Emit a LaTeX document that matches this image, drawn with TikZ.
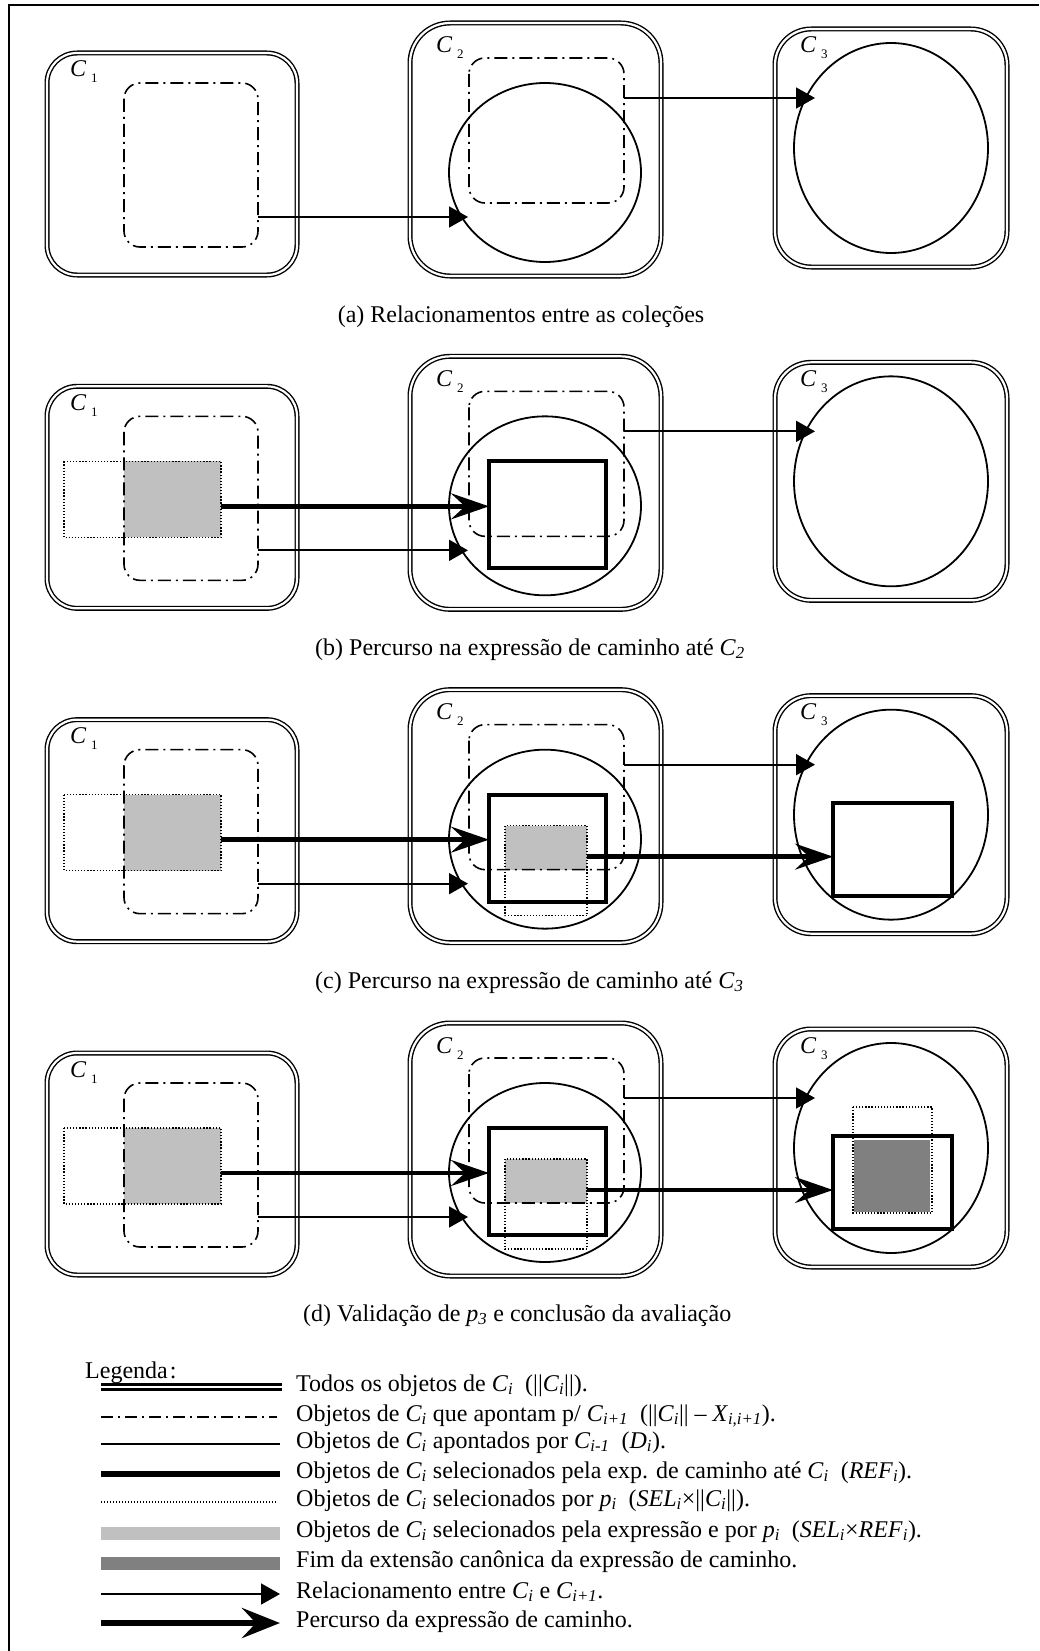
\documentclass[tikz,border=0pt]{standalone}
\usepackage{fontspec}
\setmainfont{Liberation Serif}
\usetikzlibrary{arrows.meta}
\definecolor{selgray}{HTML}{C0C0C0}
\definecolor{endgray}{HTML}{808080}
\newcommand\Csub[1]{\textit{C}\textsubscript{\textit{#1}}}
\newcommand\Isub[2]{\textit{#1}\textsubscript{\textit{#2}}}
\newcommand\capfont{\fontsize{24pt}{28pt}\selectfont}
\begin{document}
\begin{tikzpicture}[x=1pt,y=-1pt,
  frame/.style={line width=2pt},
  collbox/.style={double, line width=1.4pt, double distance=2.2pt},
  ptrbox/.style={line width=1.6pt, dash pattern=on 13pt off 5pt on 2pt off 5pt},
  ptdshape/.style={line width=1.8pt},
  refbox/.style={line width=4pt},
  selbox/.style={line width=1.3pt, dash pattern=on 1.3pt off 1.8pt},
  selfill/.style={fill=selgray},
  endfill/.style={fill=endgray},
  relarrow/.style={line width=1.8pt, -{Triangle[length=19pt,width=21pt]}},
  travarrow/.style={line width=4.5pt, -{Stealth[length=38pt,width=26pt,inset=14pt]}},
  clabel/.style={anchor=base west, inner sep=0pt, font=\capfont\itshape},
  csub/.style={anchor=base west, inner sep=0pt, font=\fontsize{13pt}{15pt}\selectfont},
  captext/.style={inner sep=0pt, font=\capfont},
  legtext/.style={anchor=base west, inner sep=0pt, font=\capfont}]
\useasboundingbox (0,0) rectangle (1039,1651);
\draw[frame] (9,1651) -- (9,5) -- (1039,5);

% the four stages of the evaluation, one below the other
\foreach \k in {0,1,2,3}{
\begin{scope}[yshift={-\k*333.33pt}]
  % collection C1
  \draw[collbox, rounded corners=30pt] (47,53) rectangle (297,275);
  \ifnum\k>0
    \fill[selfill] (124,128) rectangle (221,204);
    \draw[selbox] (64,128) rectangle (221,204);
  \fi
  \draw[ptrbox, rounded corners=16pt] (124,83) rectangle (258,247);
  \node[clabel] (lc1-\k) at (70,77) {C};
  \node[csub] (sc1-\k) at (91,83) {1};
  % collection C2
  \draw[collbox, rounded corners=40pt] (410,23) rectangle (661,276);
  \draw[ptdshape] (545,172.5) ellipse [x radius=96pt, y radius=89.5pt];
  \ifnum\k>0
    \draw[refbox] (489,128) rectangle (606,235);
  \fi
  \ifnum\k>1
    \fill[selfill] (505,159) rectangle (587,203);
    \draw[selbox] (505,159) rectangle (587,249);
  \fi
  \draw[ptrbox, rounded corners=16pt] (469,58) rectangle (624,203);
  \node[clabel] (lc2-\k) at (436,53) {C};
  \node[csub] (sc2-\k) at (457,59) {2};
  % collection C3
  \draw[collbox, rounded corners=36pt] (775,29) rectangle (1007,267);
  \draw[ptdshape] (891,148) ellipse [x radius=97pt, y radius=105pt];
  \ifnum\k>2
    \fill[endfill] (854,140) rectangle (930,212);
    \draw[selbox] (853,107) rectangle (932,213);
  \fi
  \ifnum\k>1
    \draw[refbox] (833,136) rectangle (952,229);
  \fi
  \node[clabel] (lc3-\k) at (800,53) {C};
  \node[csub] (sc3-\k) at (821,59) {3};
  % relationships between the collections
  \coordinate (r1s-\k) at (258,217);
  \coordinate (r1e-\k) at (468,217);
  \coordinate (r2s-\k) at (624,98);
  \coordinate (r2e-\k) at (815,98);
  \draw[relarrow] (r1s-\k) -- (r1e-\k);
  \draw[relarrow] (r2s-\k) -- (r2e-\k);
  % traversal of the path expression
  \ifnum\k>0
    \coordinate (t1s-\k) at (221,173);
    \coordinate (t1e-\k) at (489,173);
    \draw[travarrow] (t1s-\k) -- (t1e-\k);
  \fi
  \ifnum\k>1
    \coordinate (t2s-\k) at (587,190);
    \coordinate (t2e-\k) at (833,190);
    \draw[travarrow] (t2s-\k) -- (t2e-\k);
  \fi
\end{scope}
}

% captions
\node[captext, anchor=base] (capa) at (521,322) {(a) Relacionamentos entre as coleções};
\node[captext, anchor=base west] (capb) at (315,655) {(b) Percurso na expressão de caminho até \Csub{2}};
\node[captext, anchor=base west] (capc) at (315,988) {(c) Percurso na expressão de caminho até \Csub{3}};
\node[captext, anchor=base west] (capd) at (303,1321) {(d) Validação de \Isub{p}{3} e conclusão da avaliação};

% legend
\node[legtext] (leghead) at (85,1378) {Legenda\kern2pt:};
\draw[double, line width=2.4pt, double distance=2.3pt] (101,1387) -- (282,1387);
\draw[line width=1.8pt, dash pattern=on 12pt off 5pt on 2pt off 5pt] (101,1417) -- (277,1417);
\draw[line width=2pt] (101,1444) -- (280,1444);
\draw[line width=6.5pt] (101,1474) -- (280,1474);
\draw[line width=1.2pt, dash pattern=on 1.2pt off 1.8pt] (101,1502) -- (277,1502);
\fill[selfill] (101,1526.5) rectangle (280,1539.5);
\fill[endfill] (101,1556.5) rectangle (280,1569.5);
\coordinate (lrs) at (101,1594);
\coordinate (lre) at (280,1594);
\draw[relarrow] (lrs) -- (lre);
\coordinate (lts) at (101,1623);
\coordinate (lte) at (280,1623);
\draw[line width=6pt, -{Stealth[length=38pt,width=30pt,inset=14pt]}] (lts) -- (lte);

\node[legtext] (l1) at (296,1391) {Todos os objetos de \Csub{i}~~(||\Csub{i}||).};
\node[legtext] (l2) at (296,1421) {Objetos de \Csub{i} que apontam p/ \Csub{i+1}~~(||\Csub{i}|| – \Isub{X}{i,i+1}).};
\node[legtext] (l3) at (296,1448) {Objetos de \Csub{i} apontados por \Csub{i-1}~~(\Isub{D}{i}).};
\node[legtext] (l4) at (296,1478) {Objetos de \Csub{i} selecionados pela exp. de caminho até \Csub{i}~~(\Isub{REF}{i}).};
\node[legtext] (l5) at (296,1506) {Objetos de \Csub{i} selecionados por \Isub{p}{i}~~(\Isub{SEL}{i}×||\Csub{i}||).};
\node[legtext] (l6) at (296,1537) {Objetos de \Csub{i} selecionados pela expressão e por \Isub{p}{i}~~(\Isub{SEL}{i}×\Isub{REF}{i}).};
\node[legtext] (l7) at (296,1567) {Fim da extensão canônica da expressão de caminho.};
\node[legtext] (l8) at (296,1598) {Relacionamento entre \Csub{i} e \Csub{i+1}.};
\node[legtext] (l9) at (296,1627) {Percurso da expressão de caminho.};
\end{tikzpicture}
\end{document}
